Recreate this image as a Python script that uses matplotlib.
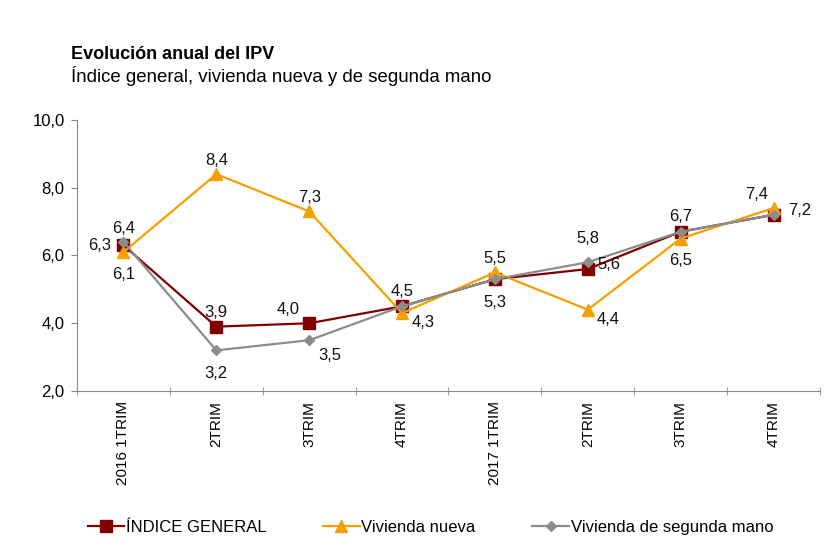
import matplotlib
matplotlib.use("Agg")
import matplotlib.pyplot as plt
from matplotlib.ticker import FixedLocator

plt.rcParams["font.family"] = ["Liberation Sans", "DejaVu Sans"]

periods = ["2016 1TRIM", "2TRIM", "3TRIM", "4TRIM", "2017 1TRIM", "2TRIM", "3TRIM", "4TRIM"]
general = [6.3, 3.9, 4.0, 4.5, 5.3, 5.6, 6.7, 7.2]
nueva = [6.1, 8.4, 7.3, 4.3, 5.5, 4.4, 6.5, 7.4]
segunda = [6.4, 3.2, 3.5, 4.5, 5.3, 5.8, 6.7, 7.2]

# label offsets (points) for each series, None = no label
off_general = [(-17, 0), (0, 10), (-15, 10), (0, 11), None, (15, 3), None, (19, 3)]
off_nueva = [(0, -16), (0, 10), (0, 10), (15, -7), (0, 10), (15, -7), (0, -16), (-12, 10)]
off_segunda = [(0, 10), (0, -17), (15, -11), None, (0, -17), (0, 17), (0, 11), None]

fig = plt.figure(figsize=(8.31, 5.5), dpi=100)
ax = fig.add_axes([0.0927, 0.289, 0.894, 0.493])

x = list(range(len(periods)))
ax.plot(x, general, color="#800000", marker="s", markersize=8, linewidth=1.6,
        label="ÍNDICE GENERAL", zorder=3)
ax.plot(x, nueva, color="#F5A000", marker="^", markersize=8, linewidth=1.6,
        label="Vivienda nueva", zorder=4)
ax.plot(x, segunda, color="#8C8C8C", marker="D", markersize=5.5, linewidth=1.6,
        label="Vivienda de segunda mano", zorder=5)

for vals, offs in [(general, off_general), (nueva, off_nueva), (segunda, off_segunda)]:
    for i, (v, o) in enumerate(zip(vals, offs)):
        if o is None:
            continue
        ax.annotate(f"{v:.1f}".replace(".", ","), (i, v), xytext=o,
                    textcoords="offset points", ha="center", va="center",
                    fontsize=12, color="#111111", zorder=6)

ax.set_xlim(-0.5, 7.5)
ax.set_ylim(2, 10)
ax.set_yticks([2, 4, 6, 8, 10])
ax.set_yticklabels([f"{t:.1f}".replace(".", ",") for t in [2, 4, 6, 8, 10]], fontsize=12)
ax.set_xticks(x)
ax.set_xticklabels(periods, rotation=90, fontsize=11)
ax.tick_params(axis="x", which="major", length=0, pad=7)
ax.xaxis.set_minor_locator(FixedLocator([i + 0.5 for i in range(-1, 8)]))
ax.tick_params(axis="x", which="minor", length=6, direction="inout", color="#888888")
ax.tick_params(axis="y", length=4, direction="out", color="#888888", pad=5)

for s in ["top", "right"]:
    ax.spines[s].set_visible(False)
ax.spines["left"].set_color("#888888")
ax.spines["bottom"].set_color("#888888")

fig.text(0.085, 0.893, "Evolución anual del IPV", fontsize=13, fontweight="bold")
fig.text(0.085, 0.851, "Índice general, vivienda nueva y de segunda mano", fontsize=13.4)

fig.legend(loc="lower center", bbox_to_anchor=(0.518, 0.0), ncol=3, frameon=False,
           handlelength=2.2, handletextpad=0.1, columnspacing=3.4,
           prop={"family": ["Liberation Sans Narrow", "Liberation Sans"], "size": 12})

fig.savefig("out.png", dpi=100)
